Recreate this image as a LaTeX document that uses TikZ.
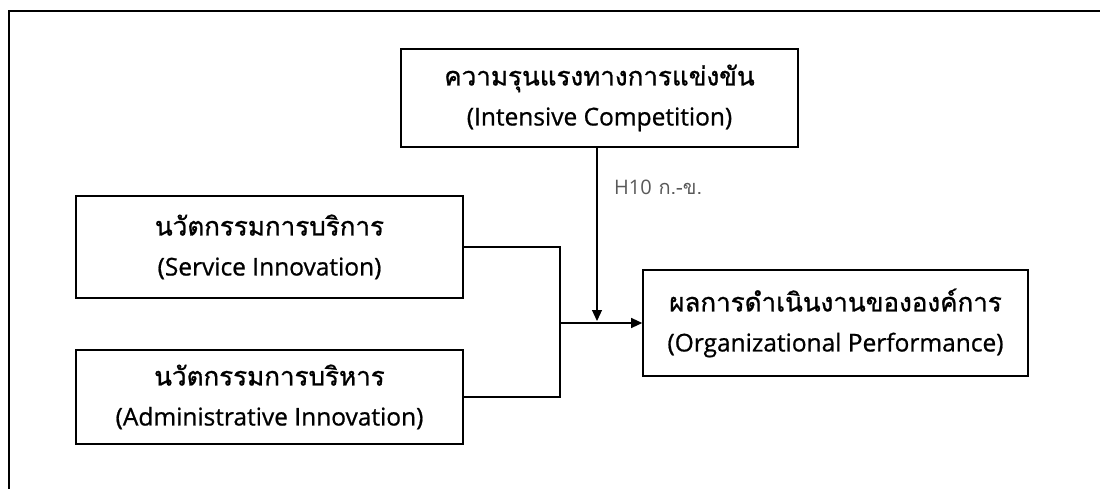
\documentclass[tikz,border=0pt]{standalone}
\usepackage{fontspec}
\setmainfont{Loma}[Script=Thai, FakeBold=1]
\newfontfamily\latinfont{Open Sans}[RawFeature={embolden=0.8}]
\usetikzlibrary{arrows.meta}
\newcommand{\thline}[1]{{\fontsize{26}{40}\selectfont #1}}
\newcommand{\enline}[1]{{\latinfont\fontsize{24.5}{40}\selectfont #1}}
\tikzset{
  varbox/.style={draw, line width=1.6pt, rectangle, align=center, inner sep=0pt,
    font=\fontsize{24.5}{40}\selectfont},
  link/.style={line width=1.2pt},
  arrowlink/.style={link, -{Triangle[length=11pt,width=10pt]}},
  hyplabel/.style={text=black!65, font=\fontsize{20}{22}\selectfont, anchor=west, inner sep=0pt}
}
\newfontfamily\labelfont{Open Sans}
\begin{document}
\begin{tikzpicture}[x=1pt,y=-1pt]
  \useasboundingbox (0,0) rectangle (1100,489);
  % outer frame
  \draw[line width=2.6pt] (9,489) -- (9,11) -- (1100,11);

  \node[varbox, minimum width=397pt, minimum height=98pt] (comp) at (599.5,98)
    {\thline{ความรุนแรงทางการแข่งขัน}\\\enline{(Intensive Competition)}};
  \node[varbox, minimum width=387pt, minimum height=102pt] (serv) at (269.5,247)
    {\thline{นวัตกรรมการบริการ}\\\enline{(Service Innovation)}};
  \node[varbox, minimum width=387pt, minimum height=94pt] (admin) at (269.5,397)
    {\thline{นวัตกรรมการบริหาร}\\\enline{(Administrative Innovation)}};
  \node[varbox, minimum width=385pt, minimum height=106pt] (perf) at (835.5,323)
    {\thline{ผลการดำเนินงานขององค์การ}\\\enline{(Organizational Performance)}};

  % joining the two innovation variables
  \coordinate (join) at (560,323);
  \draw[link] (serv.east) -| (join) |- (admin.east);
  \draw[arrowlink] (join) -- (perf.west);

  % moderating path
  \coordinate (mod) at (597,321);
  \draw[arrowlink] (comp.south -| mod) -- (mod);
  \node[hyplabel] (h10) at (614,187) {{\labelfont H10} {\fontspec{Loma}[Script=Thai]ก.-ข.}};
\end{tikzpicture}
\end{document}
